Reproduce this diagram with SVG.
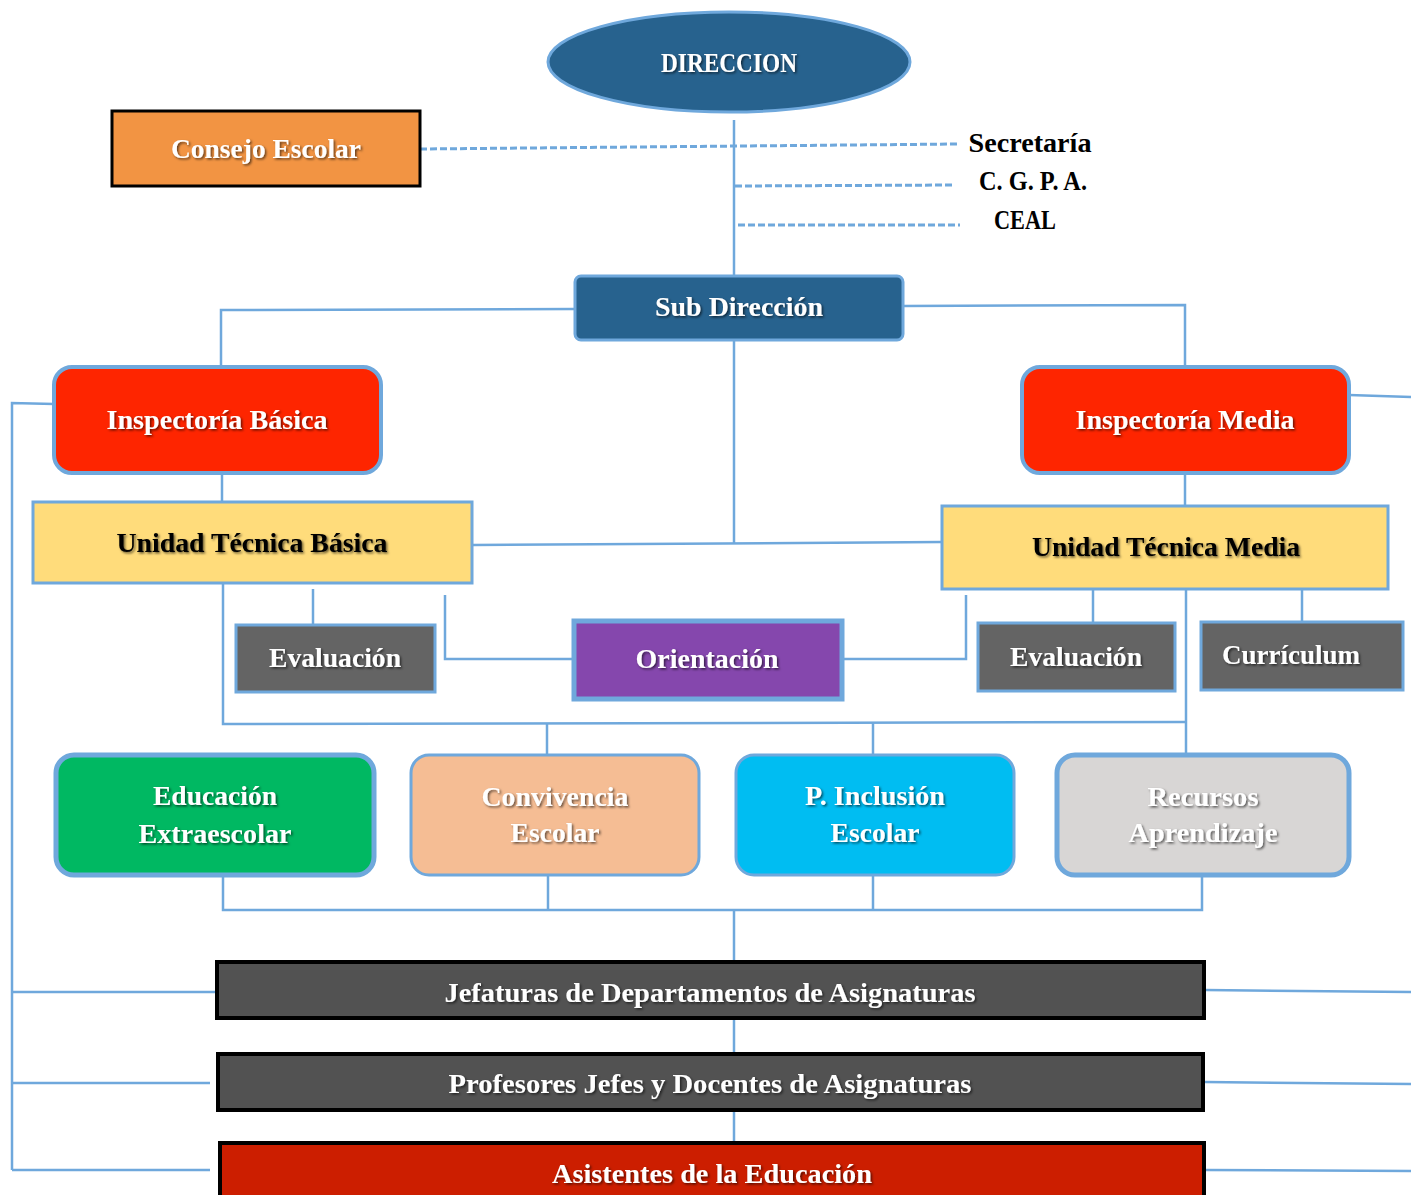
<svg xmlns="http://www.w3.org/2000/svg" width="1411" height="1195" viewBox="0 0 1411 1195">
<defs>
<filter id="sh" x="-10%" y="-30%" width="120%" height="160%"><feDropShadow dx="1.5" dy="1.5" stdDeviation="1" flood-color="#000" flood-opacity="0.6"/></filter>
<style>
text{font-family:"Liberation Serif","DejaVu Serif",serif;font-weight:bold;font-size:27px;text-anchor:middle}
.w{fill:#fff;filter:url(#sh)}
.k{fill:#000}
.kb{fill:#000;filter:url(#sh)}
.ln{fill:none;stroke:#6fa8dc;stroke-width:2.5}
.dash{fill:none;stroke:#6fa8dc;stroke-width:3;stroke-dasharray:7 3}
</style>
</defs>
<rect width="1411" height="1195" fill="#fff"/>
<g id="connectors">
<path class="dash" d="M420 149 L958 144"/>
<path class="dash" d="M735 186 L955 185"/>
<path class="dash" d="M738 225 L960 225"/>
<path class="ln" d="M734 120 V276"/>
<path class="ln" d="M575 309 L221 310 V367"/>
<path class="ln" d="M903 306 L1185 305 V367"/>
<path class="ln" d="M734 340 V543"/>
<path class="ln" d="M473 545 L942 542"/>
<path class="ln" d="M222 473 V502"/>
<path class="ln" d="M1185 473 V506"/>
<path class="ln" d="M54 404 L12 403 V1170"/>
<path class="ln" d="M12 992 H215"/>
<path class="ln" d="M12 1083 H210"/>
<path class="ln" d="M12 1170 H210"/>
<path class="ln" d="M1349 395 L1411 397"/>
<path class="ln" d="M1205 990 L1411 992"/>
<path class="ln" d="M1205 1082 L1411 1084"/>
<path class="ln" d="M1205 1170 L1411 1171"/>
<path class="ln" d="M223 583 V724 L1186 722"/>
<path class="ln" d="M1186 589 V754"/>
<path class="ln" d="M547 724 V754"/>
<path class="ln" d="M873 723 V754"/>
<path class="ln" d="M313 589 V625"/>
<path class="ln" d="M445 595 V659 H573"/>
<path class="ln" d="M842 659 H966 V595"/>
<path class="ln" d="M1093 589 V623"/>
<path class="ln" d="M1302 589 V622"/>
<path class="ln" d="M223 876 V910 H1202 V876"/>
<path class="ln" d="M548 876 V910"/>
<path class="ln" d="M873 876 V910"/>
<path class="ln" d="M734 910 V962"/>
<path class="ln" d="M734 1018 V1054"/>
<path class="ln" d="M734 1110 V1143"/>
</g>
<g id="direccion">
<ellipse cx="729" cy="62" rx="181" ry="50" fill="#27628e" stroke="#6fa8dc" stroke-width="3"/>
<text class="w" x="729" y="72" textLength="136" lengthAdjust="spacingAndGlyphs">DIRECCION</text>
</g>
<g id="consejo">
<rect x="112" y="111" width="308" height="75" fill="#f29443" stroke="#000" stroke-width="3"/>
<text class="w" x="266" y="158" textLength="190" lengthAdjust="spacingAndGlyphs">Consejo Escolar</text>
</g>
<g id="secretaria"><text class="k" x="1030" y="152" textLength="123" lengthAdjust="spacingAndGlyphs">Secretaría</text></g>
<g id="cgpa"><text class="k" x="1033" y="190" textLength="108" lengthAdjust="spacingAndGlyphs">C. G. P. A.</text></g>
<g id="ceal"><text class="k" x="1025" y="229" textLength="62" lengthAdjust="spacingAndGlyphs">CEAL</text></g>
<g id="subdireccion">
<rect x="575" y="276" width="328" height="64" rx="6" fill="#27628e" stroke="#6fa8dc" stroke-width="3"/>
<text class="w" x="739" y="316" textLength="168" lengthAdjust="spacingAndGlyphs">Sub Dirección</text>
</g>
<g id="insp-basica">
<rect x="54" y="367" width="327" height="106" rx="18" fill="#fe2500" stroke="#6fa8dc" stroke-width="4"/>
<text class="w" x="217" y="429" textLength="221" lengthAdjust="spacingAndGlyphs">Inspectoría Básica</text>
</g>
<g id="insp-media">
<rect x="1022" y="367" width="327" height="106" rx="18" fill="#fe2500" stroke="#6fa8dc" stroke-width="4"/>
<text class="w" x="1185" y="429" textLength="219" lengthAdjust="spacingAndGlyphs">Inspectoría Media</text>
</g>
<g id="utb">
<rect x="33" y="502" width="439" height="81" fill="#ffdc7b" stroke="#6fa8dc" stroke-width="3"/>
<text class="kb" x="252" y="552" textLength="271" lengthAdjust="spacingAndGlyphs">Unidad Técnica Básica</text>
</g>
<g id="utm">
<rect x="942" y="506" width="446" height="83" fill="#ffdc7b" stroke="#6fa8dc" stroke-width="3"/>
<text class="kb" x="1166" y="556" textLength="268" lengthAdjust="spacingAndGlyphs">Unidad Técnica Media</text>
</g>
<g id="eval-basica">
<rect x="236" y="625" width="199" height="67" fill="#646464" stroke="#6fa8dc" stroke-width="3"/>
<text class="w" x="335" y="667" textLength="132" lengthAdjust="spacingAndGlyphs">Evaluación</text>
</g>
<g id="orientacion">
<rect x="574" y="621" width="268" height="78" fill="#8547ad" stroke="#6fa8dc" stroke-width="5"/>
<text class="w" x="707" y="668" textLength="143" lengthAdjust="spacingAndGlyphs">Orientación</text>
</g>
<g id="eval-media">
<rect x="978" y="623" width="197" height="68" fill="#646464" stroke="#6fa8dc" stroke-width="3"/>
<text class="w" x="1076" y="666" textLength="132" lengthAdjust="spacingAndGlyphs">Evaluación</text>
</g>
<g id="curriculum">
<rect x="1201" y="622" width="202" height="68" fill="#646464" stroke="#6fa8dc" stroke-width="3"/>
<text class="w" x="1291" y="664" textLength="138" lengthAdjust="spacingAndGlyphs">Currículum</text>
</g>
<g id="extraescolar">
<rect x="56" y="755" width="318" height="120" rx="18" fill="#00b862" stroke="#6fa8dc" stroke-width="5"/>
<text class="w" x="215" y="805" textLength="124" lengthAdjust="spacingAndGlyphs">Educación</text>
<text class="w" x="215" y="843" textLength="153" lengthAdjust="spacingAndGlyphs">Extraescolar</text>
</g>
<g id="convivencia">
<rect x="411" y="755" width="288" height="120" rx="18" fill="#f5bd94" stroke="#6fa8dc" stroke-width="3"/>
<text class="w" x="555" y="806" textLength="147" lengthAdjust="spacingAndGlyphs">Convivencia</text>
<text class="w" x="555" y="842" textLength="89" lengthAdjust="spacingAndGlyphs">Escolar</text>
</g>
<g id="inclusion">
<rect x="736" y="755" width="278" height="120" rx="18" fill="#00bdf2" stroke="#6fa8dc" stroke-width="3"/>
<text class="w" x="875" y="805" textLength="140" lengthAdjust="spacingAndGlyphs">P. Inclusión</text>
<text class="w" x="875" y="842" textLength="89" lengthAdjust="spacingAndGlyphs">Escolar</text>
</g>
<g id="recursos">
<rect x="1057" y="755" width="292" height="120" rx="18" fill="#d8d6d5" stroke="#6fa8dc" stroke-width="5"/>
<text class="w" x="1203" y="806" textLength="111" lengthAdjust="spacingAndGlyphs">Recursos</text>
<text class="w" x="1203" y="842" textLength="149" lengthAdjust="spacingAndGlyphs">Aprendizaje</text>
</g>
<g id="jefaturas">
<rect x="217" y="962" width="987" height="56" fill="#525252" stroke="#000" stroke-width="4"/>
<text class="w" x="710" y="1002" textLength="531" lengthAdjust="spacingAndGlyphs">Jefaturas de Departamentos de Asignaturas</text>
</g>
<g id="profesores">
<rect x="218" y="1054" width="985" height="56" fill="#525252" stroke="#000" stroke-width="4"/>
<text class="w" x="710" y="1093" textLength="523" lengthAdjust="spacingAndGlyphs">Profesores Jefes y Docentes de Asignaturas</text>
</g>
<g id="asistentes">
<rect x="220" y="1143" width="984" height="60" fill="#cc1e00" stroke="#000" stroke-width="4"/>
<text class="w" x="712" y="1183" textLength="320" lengthAdjust="spacingAndGlyphs">Asistentes de la Educación</text>
</g>
</svg>
